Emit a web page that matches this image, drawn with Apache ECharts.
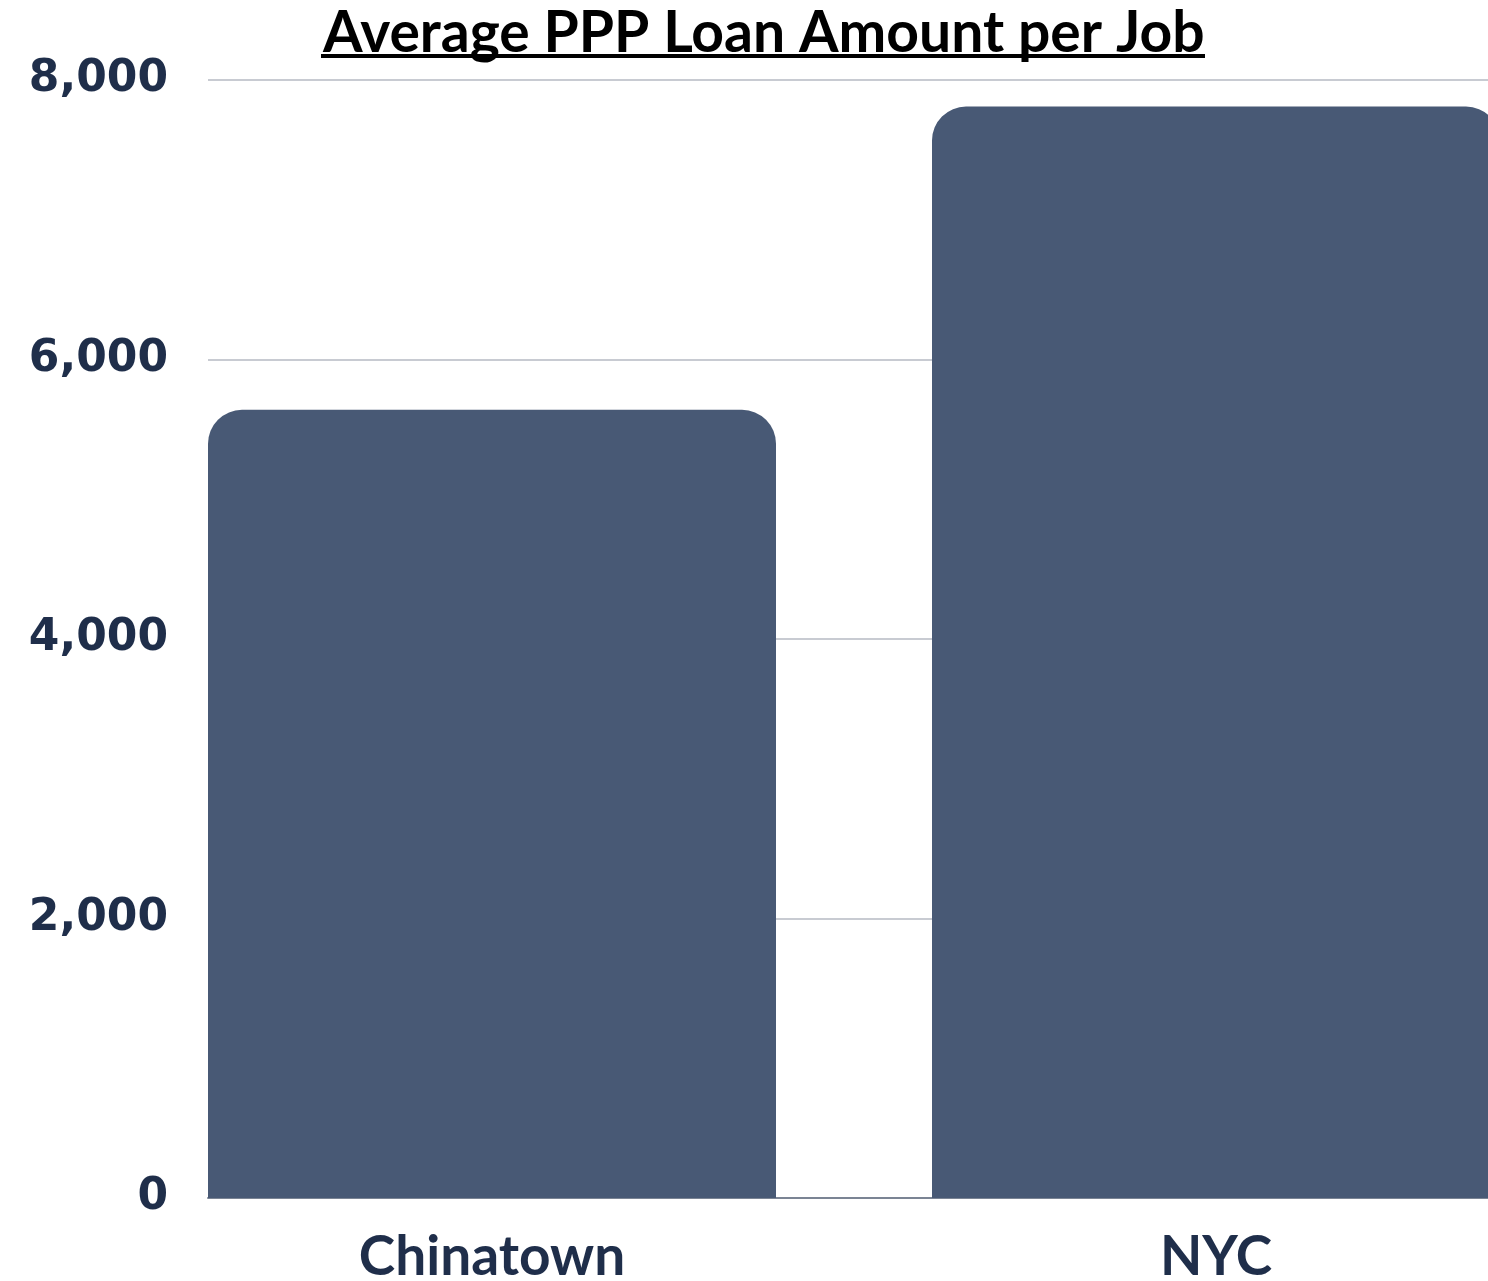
<!DOCTYPE html>
<html>
<head>
<meta charset="utf-8">
<script src="https://cdn.jsdelivr.net/npm/echarts@6/dist/echarts.min.js"></script>
<style>
  html, body { margin: 0; padding: 0; background: #fff; }
  #chart { width: 1488px; height: 1281px; }
</style>
</head>
<body>
<div id="chart"></div>
<script>
// data
const categories = ['Chinatown', 'NYC'];
const loanPerJob = [5640, 7810];
const yTicks = { min: 0, max: 8000, interval: 2000 };

const navy = '#1f2e4a';
const barColor = '#485975';

const chart = echarts.init(document.getElementById('chart'));
chart.setOption({
  backgroundColor: '#fff',
  animation: false,
  title: {
    text: 'Average PPP Loan Amount per Job',
    left: 318,
    top: 0,
    textStyle: { fontFamily: 'Lato', fontWeight: 'bold', fontSize: 57, color: '#000' }
  },
  graphic: [{
    // underline for the title
    type: 'rect',
    shape: { x: 321, y: 54, width: 884, height: 4 },
    style: { fill: '#000' }
  }],
  grid: [
    // grid 0: axis labels, grid lines and baseline
    { left: 208, right: 0, top: 80, bottom: 83, outerBoundsMode: 'none' },
    // grid 1: bars and category labels (wider bands, runs off the right edge)
    { left: 130, width: 1448, top: 80, bottom: 83, outerBoundsMode: 'none' }
  ],
  xAxis: [
    {
      gridIndex: 0, type: 'category', data: [''],
      axisLine: { show: true, lineStyle: { color: '#7b8494', width: 2 } },
      axisTick: { show: false }, axisLabel: { show: false }
    },
    {
      gridIndex: 1, type: 'category', data: categories,
      axisLine: { show: false }, axisTick: { show: false },
      axisLabel: {
        margin: 32, fontFamily: 'Lato', fontWeight: 'bold', fontSize: 55, color: navy
      }
    }
  ],
  yAxis: [
    {
      gridIndex: 0, type: 'value', min: yTicks.min, max: yTicks.max, interval: yTicks.interval,
      axisLine: { show: false }, axisTick: { show: false },
      axisLabel: {
        margin: 40, fontFamily: 'DejaVu Sans', fontWeight: 'bold', fontSize: 44, color: navy,
        formatter: v => v.toLocaleString('en-US')
      },
      splitLine: { lineStyle: { color: '#c8cbd2', width: 2 } }
    },
    {
      gridIndex: 1, type: 'value', min: yTicks.min, max: yTicks.max, interval: yTicks.interval,
      show: false
    }
  ],
  series: [{
    type: 'bar',
    xAxisIndex: 1,
    yAxisIndex: 1,
    data: loanPerJob,
    barWidth: 568,
    itemStyle: { color: barColor, borderRadius: [34, 34, 0, 0] },
    z: 3
  }]
});
</script>
</body>
</html>
